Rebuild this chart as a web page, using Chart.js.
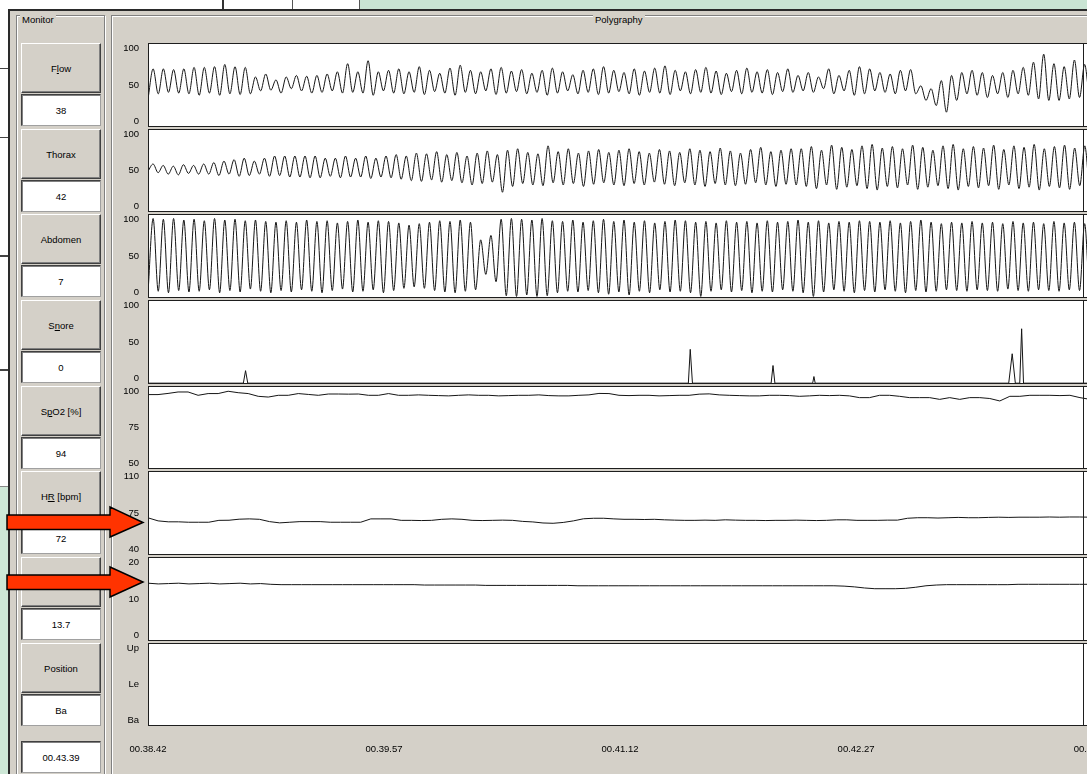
<!DOCTYPE html>
<html><head><meta charset="utf-8">
<script src="https://cdn.jsdelivr.net/npm/chart.js@4"></script>
<style>
html,body{margin:0;padding:0}
body{width:1087px;height:774px;overflow:hidden;position:relative;background:#fff;font-family:"Liberation Sans",Arial,sans-serif;font-size:9.5px;color:#000}
.abs{position:absolute}
#topgreen{left:360px;top:0;width:727px;height:10px;background:#c9e4d3}
#leftgreen{left:0;top:487px;width:9px;height:287px;background:#cde7d6}
#win{left:8px;top:9px;width:1100px;height:800px;background:#d4d0c8;border-left:2px solid #2a2a2a;border-top:2px solid #2a2a2a;box-sizing:border-box}
.grp{border:1px solid #808080;box-shadow:inset 1px 1px 0 #fff,1px 1px 0 #fff}
.grpl{background:#d4d0c8;padding:0 2px;line-height:11px}
.btn{left:21px;width:80px;height:50px;box-sizing:border-box;background:#d4d0c8;border:1px solid;border-color:#fff #404040 #404040 #fff;box-shadow:inset -1px -1px 0 #808080;display:flex;align-items:center;justify-content:center}
.val{left:21px;width:80px;height:32px;box-sizing:border-box;background:#fff;border:1px solid;border-color:#404040 #a0a0a0 #a0a0a0 #404040;box-shadow:inset 1px 1px 0 #808080;display:flex;align-items:center;justify-content:center}
canvas{position:absolute}
</style></head><body>
<div class="abs" id="topgreen"></div>
<div class="abs" style="left:222px;top:0;width:2px;height:9px;background:#333"></div>
<div class="abs" style="left:292px;top:0;width:1px;height:9px;background:#555"></div>
<div class="abs" style="left:359px;top:0;width:1px;height:9px;background:#555"></div>
<div class="abs" id="leftgreen"></div>
<div class="abs" style="left:0;top:68px;width:8px;height:1px;background:#444"></div>
<div class="abs" style="left:0;top:137px;width:8px;height:1px;background:#444"></div>
<div class="abs" style="left:0;top:255px;width:8px;height:2px;background:#444"></div>
<div class="abs" style="left:0;top:369px;width:8px;height:2px;background:#444"></div>
<div class="abs" style="left:0;top:486px;width:8px;height:1px;background:#888"></div>
<div class="abs" id="win"></div>

<div class="abs grp" style="left:16px;top:15px;width:87px;height:800px"></div>
<div class="abs grpl" style="left:20px;top:14px">Monitor</div>
<div class="abs grp" style="left:111px;top:15px;width:1000px;height:800px"></div>
<div class="abs grpl" style="left:593px;top:14px">Polygraphy</div>

<div id="monitor"></div>

<canvas id="c0"></canvas><canvas id="c1"></canvas><canvas id="c2"></canvas><canvas id="c3"></canvas>
<canvas id="c4"></canvas><canvas id="c5"></canvas><canvas id="c6"></canvas><canvas id="c7"></canvas>

<svg class="abs" style="left:0;top:0" width="1087" height="774">
<polygon points="7,515 110,515 110,507 143,522.5 110,537 110,529.5 7,529.5" fill="#ff3300" stroke="#000" stroke-width="1.5"/>
<polygon points="7,575 110,575 110,567 143,582 110,597 110,589.5 7,589.5" fill="#ff3300" stroke="#000" stroke-width="1.5"/>
</svg>

<script>
// ---------- data ----------
const monitorLabels = ['F<u>l</u>ow','Thorax','Abdomen','S<u>n</u>ore','S<u>p</u>O2 [%]','H<u>R</u> [bpm]','','Position'];
const monitorValues = ['38','42','7','0','94','72','13.7','Ba'];
const cursorTimeLabel = '00.43.39';
const cursorTime = 297;           // seconds after 00.38.42
const xMaxTime = 302.5;           // visible time span (s)
const xTickValues = [0, 75, 150, 225, 300];
const xTickLabels = ['00.38.42','00.39.57','00.41.12','00.42.27','00.43.42'];

const flow = [31,
72,38,72,40,71,39,72,38,74,36,74,39,75,36,78,38,75,37,74,38,61,42,65,43,57,39,61,45,63,42,62,39,63,40,65,42,68,39,79,40,68,39,83,36,68,42,70,39,
72,38,68,40,75,37,70,41,66,39,73,36,77,40,70,38,68,42,72,37,74,39,69,41,71,38,66,40,70,36,73,39,68,42,64,38,70,40,72,37,75,39,70,41,67,38,72,36,69,40,73,39,76,37,70,42,68,38,71,40,74,39,69,37,66,41,70,38,73,40,68,39,71,37,67,41,72,40,
63,42,67,40,61,45,72,38,63,42,70,36,75,38,72,42,67,40,65,38,70,42,71,38,49,29,45,22,56,13,63,29,67,38,70,36,67,33,63,38,67,33,70,38,74,36,81,31,92,29,79,29,75,31,84,33,
78,36,74,38];

const thorax = [49,
59,47,57,45,56,44,58,46,57,45,59,45,61,43,63,45,65,42,67,43,63,45,67,42,70,43,70,41,70,41,70,40,70,40,67,42,67,40,70,41,67,41,70,39,67,41,70,40,
72,38,70,36,74,35,73,37,76,34,72,36,75,33,70,30,74,32,77,34,72,20,78,28,80,32,75,30,73,29,84,33,76,30,80,32,74,28,77,31,79,33,75,30,78,29,80,32,76,30,74,34,79,31,77,29,75,33,80,30,78,28,76,32,81,30,77,29,74,31,79,33,82,30,76,28,78,31,80,30,
80,28,83,25,78,30,85,24,82,27,79,29,84,25,86,23,81,28,83,26,80,30,85,24,82,27,78,29,84,25,86,23,80,28,83,26,81,29,85,24,79,30,84,25,82,27,86,23,80,28,83,26,85,24,81,29,84,27,
80,29];

const abdomen = [0,
101,2,100,0,101,3,99,1,100,2,98,4,101,0,99,3,100,1,98,5,
99,2,97,0,96,3,98,1,96,4,99,2,97,0,98,3,95,5,97,1,
99,2,96,4,98,0,97,3,95,6,92,8,94,6,96,3,98,1,97,0,
99,2,96,4,72,25,78,15,100,-4,101,-5,100,-3,99,-5,101,-4,98,0,
97,2,99,1,96,3,98,0,100,-2,97,1,99,-3,96,2,98,0,95,4,
97,1,99,2,98,0,96,-5,97,2,95,4,98,1,96,3,97,0,95,2,
98,1,96,4,97,2,99,0,96,-5,98,1,95,4,97,2,96,0,98,3,
97,1,96,4,98,2,95,0,97,3,99,1,96,2,94,4,96,3,95,2,
97,4,95,3,96,2,94,5,97,3,95,2,96,4,94,3,97,2,95,4,
96,3,94,5,96,3];

const snoreT = [0,30.3,31.0,31.7,171.7,172.3,173.0,198.0,198.6,199.2,211.2,211.6,212.0,273.5,274.6,275.6,277.0,277.6,278.2,302.5];
const snoreV = [-6,-6,11,-6,-6,40,-6,-6,18,-6,-6,3,-6,-6,34,-6,-6,68,-6,-6];

const spo2 = [97.7,97.7,98.5,99.5,99.5,97.2,98.4,98.4,100,99,98.4,96.5,96,97.2,97.2,98.4,97.8,97.2,98.1,98.1,98,98.1,97.2,97.2,98.4,97.2,
97.2,97.5,97.2,97,96.8,97.2,97.5,97.2,97.2,96.8,97,97.2,97.2,97.5,97,96.8,96.8,97.2,97.5,98.5,98.4,97.2,97,97.2,97.2,96.8,97,97.2,97.2,98,98.2,97.5,97.2,97,96.8,96.8,97.2,97.2,97,96.5,96.8,97.2,97,97.2,96.8,
95.6,95.6,97.2,97.2,96.5,95.6,95.6,95.6,94.4,95.6,94.4,95.6,95.6,95,93.3,96.5,96.5,97.2,97.2,97.2,97,97.2,95.6,94.4,96.5];

const hr = [70.4,67.5,66.6,66.6,66.2,66.2,66.2,68,68.1,69.1,69.4,69,66.8,65.6,66.2,66.8,66.8,66.8,66.2,66.2,66.2,66.2,69.4,69.4,69.4,
68,68,67.8,68,69,69.4,69,68,67.8,68,68.2,68,67,66.5,65.5,65.2,66,67.5,69.5,70,70,69.4,69,69,68.8,69,68.5,68.2,68,68,68.2,68,68.5,68.2,68,68,67.8,68,68,68.2,
68,67.8,68,68.5,68.5,68,68,68,68.2,68.2,70,70.5,70.5,70.2,70.5,70.8,70.5,70.5,70.8,71,70.8,71,71,71,71.2,71,71.2,71.2,71,71];

const resp = [14.3,14.1,14.2,14.3,14.1,14.2,14.3,14.1,14.2,14.3,14.1,14.2,14.0,13.9,13.9,13.9,13.9,13.9,13.9,13.9,13.9,13.9,13.9,13.9,13.9,
13.9,13.9,13.8,13.8,13.8,13.8,13.8,13.8,13.7,13.7,13.7,13.7,13.7,13.7,13.7,13.7,13.7,13.6,13.6,13.6,13.6,13.6,13.6,13.6,13.6,13.6,13.6,13.6,13.6,13.6,13.6,13.6,13.6,13.6,13.6,13.6,13.6,13.6,13.6,13.6,
13.6,13.6,13.6,13.5,13.3,13.0,12.8,12.8,12.8,12.9,13.2,13.6,13.8,13.9,13.9,13.9,13.9,13.9,13.9,13.9,14.0,14.0,14.0,14.0,14.0,14.0,14.0,14.0,14.0];

const positionLabels = ['Ba','Le','Up'];

// ---------- monitor panel ----------
const mon = document.getElementById('monitor');
const blockTops = [43,129,214,300,386,471,557,643];
blockTops.forEach((t,i)=>{
  const b=document.createElement('div'); b.className='abs btn'; b.style.top=t+'px'; b.innerHTML='<span>'+monitorLabels[i]+'</span>'; mon.appendChild(b);
  const v=document.createElement('div'); v.className='abs val'; v.style.top=(t+51)+'px'; v.textContent=monitorValues[i]; mon.appendChild(v);
});
const tb=document.createElement('div'); tb.className='abs val'; tb.style.top='741px'; tb.textContent=cursorTimeLabel; mon.appendChild(tb);

// ---------- charts ----------
const FONT = {family:'"Liberation Sans", Arial, sans-serif', size:9.5};
const frame = {
  id:'panelFrame',
  beforeDraw(c){const a=c.chartArea,x=c.ctx;x.save();x.fillStyle='#fff';x.fillRect(a.left,a.top,a.right-a.left,a.bottom-a.top);x.restore();},
  afterDraw(c){const a=c.chartArea,x=c.ctx;x.save();x.strokeStyle='#1e1e1e';x.lineWidth=1;
    x.strokeRect(a.left+0.5,a.top+0.5,a.right-a.left-1,a.bottom-a.top-1);
    const cx=Math.round(c.scales.x.getPixelForValue(cursorTime))+0.5;
    x.beginPath();x.moveTo(cx,a.top);x.lineTo(cx,a.bottom);x.stroke();x.restore();}
};
function evenSeries(vals){const n=vals.length;return vals.map((v,i)=>({x:i*xMaxTime/(n-1),y:v}));}

const LEFT=112, AREA_L=36, AREA_W=1100-148, PADR=40, XAX=40;
function panel(idx, top, bottom, yMin, yMax, yTicks, labelFn, datasets, showX){
  showX = !!showX;
  const h = bottom-top;                // chart area height
  const ppu = (h-10.5)/(yMax-yMin);
  const pad = 5.25/ppu;
  const cv = document.getElementById('c'+idx);
  const H = 8 + h + (showX?XAX:8);
  cv.width = AREA_L+AREA_W+PADR; cv.height = H;
  cv.style.left = LEFT+'px'; cv.style.top=(top-8)+'px';
  return new Chart(cv,{
    type:'line',
    data:{datasets},
    options:{
      responsive:false,animation:false,events:[],devicePixelRatio:1,
      layout:{padding:{top:8,bottom:showX?0:8,left:0,right:PADR}},
      plugins:{legend:{display:false},tooltip:{enabled:false}},
      elements:{point:{radius:0}},
      scales:{
        x:{type:'linear',min:0,max:xMaxTime,display:showX,grid:{display:false},border:{display:false},
           afterBuildTicks:s=>{s.ticks=xTickValues.map(v=>({value:v}));},
           afterFit:s=>{s.height=showX?XAX:0;},
           ticks:{autoSkip:false,maxRotation:0,padding:10,font:FONT,color:'#000',callback:(v,i)=>xTickLabels[i]}},
        y:{type:'linear',min:yMin-pad,max:yMax+pad,grid:{display:false},border:{display:false},
           afterFit:s=>{s.width=AREA_L;},
           afterBuildTicks:s=>{s.ticks=yTicks.map(v=>({value:v}));},
           ticks:{padding:1,font:FONT,color:'#000',callback:labelFn}}
      }
    },
    plugins:[frame]
  });
}
const ds=(data,smooth)=>({data,borderColor:'#151515',borderWidth:1,fill:false,
  cubicInterpolationMode:smooth?'monotone':'default',tension:0,parsing:false});
const num=v=>String(v);
const tops=[43,129,214,300,386,471,557,643], bots=[127,212,298,384,469,555,641,726];

panel(0,tops[0],bots[0],0,100,[0,50,100],num,[ds(evenSeries(flow),true)]);
panel(1,tops[1],bots[1],0,100,[0,50,100],num,[ds(evenSeries(thorax),true)]);
panel(2,tops[2],bots[2],0,100,[0,50,100],num,[ds(evenSeries(abdomen),true)]);
panel(3,tops[3],bots[3],0,100,[0,50,100],num,[ds(snoreT.map((t,i)=>({x:t,y:snoreV[i]})),false)]);
panel(4,tops[4],bots[4],50,100,[50,75,100],num,[ds(evenSeries(spo2),false)]);
panel(5,tops[5],bots[5],40,110,[40,75,110],num,[ds(evenSeries(hr),false)]);
panel(6,tops[6],bots[6],0,20,[0,10,20],num,[ds(evenSeries(resp),false)]);
panel(7,tops[7],bots[7],0,2,[0,1,2],(v)=>positionLabels[v],[],true);
</script>
</body></html>
